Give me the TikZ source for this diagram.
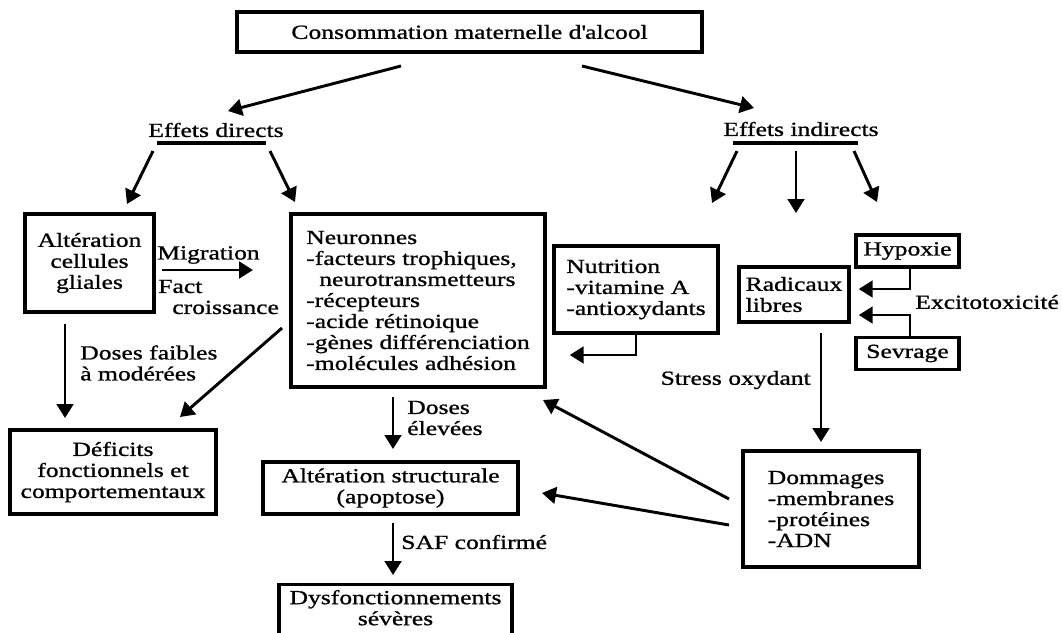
\documentclass[tikz,border=0pt]{standalone}
\usepackage{fontspec}
\setmainfont{Liberation Serif}[FakeStretch=1.28, FakeBold=1]
\usetikzlibrary{arrows.meta, positioning, calc}

\begin{document}
\begin{tikzpicture}[x=0.75pt, y=-0.75pt, font=\fontsize{15}{15.75}\selectfont,
  box/.style={draw, line width=2.6pt, inner sep=0pt, align=center},
  lbox/.style={box, align=left},
  txt/.style={inner sep=0pt, align=left},
  arr/.style={line width=2.2pt, -{Triangle[length=10.5pt, width=12.5pt]}},
  uline/.style={line width=2.6pt}]

            \useasboundingbox (0,0) rectangle (1062,632);

            % boxes
            \node[box, minimum width=348.75pt, minimum height=30pt] (alc) at (469.5,32) {Consommation maternelle d\textquotesingle alcool};
            \node[txt] (dir) at (216,130) {Effets directs};
            \node[txt] (ind) at (801,129) {Effets indirects};
            \node[box, minimum width=96.75pt, minimum height=73.5pt] (glia) at (89.5,263) {Altération\\cellules\\gliales};
            \node[lbox, minimum width=190.5pt, minimum height=129.75pt] (neur) at (418,300.5) {Neuronnes\\-facteurs trophiques,\\\hspace*{9.75pt}neurotransmetteurs\\-récepteurs\\-acide rétinoique\\-gènes différenciation\\-molécules adhésion};
            \node[lbox, minimum width=123pt, minimum height=65.25pt] (nutr) at (636,289.5) {Nutrition\\-vitamine A\\-antioxydants};
            \node[lbox, minimum width=82.5pt, minimum height=41.25pt] (rad) at (794,294.5) {Radicaux\\libres};
            \node[box, minimum width=77.25pt, minimum height=24pt] (hyp) at (907.5,251) {Hypoxie};
            \node[box, minimum width=77.25pt, minimum height=24pt, below=50.25pt of hyp] (sev) {Sevrage};
            \node[box, minimum width=154.5pt, minimum height=63pt] (def) at (113,472) {Déficits\\fonctionnels et\\comportementaux};
            \node[box, minimum width=191.25pt, minimum height=39pt] (struc) at (390.5,488) {Altération structurale\\(apoptose)};
            \node[lbox, minimum width=132pt, minimum height=87pt] (dom) at (831,509) {Dommages\\-membranes\\-protéines\\-ADN};
            \node[box, minimum width=174.75pt, anchor=north, inner ysep=4pt] (dysf) at (395.5,583) {Dysfonctionnements\\sévères\\};

            % labels
            \node[txt] (s1) at (208.5,255) {Migration};
            \node[txt, anchor=west] (s2) at (158,297) {Fact\\\hspace*{10.5pt}croissance};
            \node[txt, anchor=west] (s3) at (80,363) {Doses faibles\\à modérées};
            \node[txt, anchor=west] (s4) at (407,418) {Doses\\élevées};
            \node[txt, anchor=west] (s5) at (401,542) {SAF confirmé};
            \node[txt, anchor=west] (s6) at (915,302) {Excitotoxicité};
            \node[txt, anchor=east] (s7) at (811,380) {Stress oxydant};

            \draw[uline] ($(dir)+(-59,13)$) -- ($(dir)+(50,13)$);
            \draw[uline] ($(ind)+(-68,14)$) -- ($(ind)+(57,14)$);

            \path[arr]
            ($(alc)+(-68.5,34)$) edge ($(dir)+(12,-19)$)
            ($(alc)+(112.5,34)$) edge ($(ind)+(-47,-21)$)
            ($(dir)+(-63,21)$) edge ($(glia)+(37.5,-59)$)
            ($(dir)+(54,21)$) edge ($(neur)+(-123,-98.5)$)
            ($(ind)+(-64,22)$) edge ($(nutr)+(76,-86.5)$)
            ($(ind)+(-5,22)$) edge ($(rad)+(2,-81.5)$)
            ($(ind)+(53,22)$) edge ($(hyp)+(-30.5,-49)$)
            ($(glia)+(72.5,7)$) edge ($(neur)+(-165,-30.5)$)
            ($(glia)+(-24.5,61)$) edge ($(def)+(-48,-54)$)
            ($(neur)+(-136,27.5)$) edge ($(def)+(67,-55)$)
            ($(neur)+(-25,96.5)$) edge ($(struc)+(2.5,-39)$)
            ($(struc)+(2.5,35)$) edge ($(dysf.north)+(-2.5,-8)$)
            ($(rad)+(27,38.5)$) edge ($(dom)+(-10,-67)$)
            ($(dom)+(-102,-10)$) edge ($(neur)+(125,99.5)$)
            ($(dom)+(-102,16)$) edge ($(struc)+(151.5,5)$);

            \draw[arr] (nutr.south) |- ($(neur.east)+(23,54.5)$);
            \draw[arr] ($(hyp.south)+(2.5,0)$) |- ($(rad.east)+(8,-5.5)$);
            \draw[arr] ($(sev.north)+(2.5,0)$) |- ($(rad.east)+(8,20.5)$);

        \end{tikzpicture}
\end{document}
